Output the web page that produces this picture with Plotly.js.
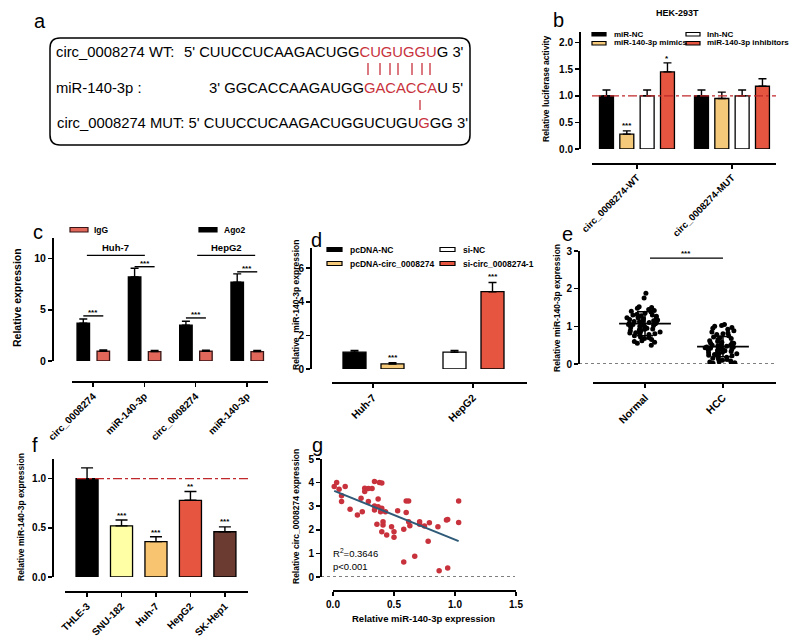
<!DOCTYPE html>
<html><head><meta charset="utf-8">
<script src="https://cdn.plot.ly/plotly-3.0.1.min.js"></script>
<style>html,body{margin:0;padding:0;background:#fff}#chart{width:800px;height:641px}</style>
</head><body><div id="chart"></div>
<script>
// ================= DATA =================
// panel a (sequence alignment)
const aWTLabel = 'circ_0008274 WT:';
const aWTSeq = ["5' CUUCCUCAAGACUGG", "CUGUGGU", "G 3'"];
const aMiRLabel = 'miR-140-3p :';
const aMiRSeq = ["3' GGCACCAAGAUGG", "GACACCA", "U 5'"];
const aMUTSeq = ["circ_0008274 MUT: 5' CUUCCUCAAGACUGGUCUGU", "G", "GG 3'"];

// panel b
const bTitle = 'HEK-293T';
const bGroups = ['circ_0008274-WT', 'circ_0008274-MUT'];
const bSeries = ['miR-NC', 'miR-140-3p mimics', 'Inh-NC', 'miR-140-3p inhibitors'];
const bMiRNC = [1.00, 1.00];
const bMimics = [0.28, 0.95];
const bInhNC = [1.00, 1.00];
const bInhibitors = [1.45, 1.18];
const bMiRNCErr = [0.11, 0.11];
const bMimicsErr = [0.06, 0.12];
const bInhNCErr = [0.11, 0.11];
const bInhibitorsErr = [0.17, 0.14];
const bStarText = ['***', '*'];
const bStarSeries = [1, 3];
const bStarY = [0.45, 1.70];

// panel c
const cCats = ['circ_0008274', 'miR-140-3p', 'circ_0008274', 'miR-140-3p'];
const cCells = ['Huh-7', 'HepG2'];
const cSeries = ['IgG', 'Ago2'];
const cIgG = [0.95, 0.92, 0.95, 0.92];
const cAgo2 = [3.7, 8.2, 3.5, 7.7];
const cIgGErr = [0.12, 0.10, 0.10, 0.10];
const cAgo2Err = [0.40, 0.85, 0.38, 0.80];
const cSigY = [4.4, 9.2, 4.2, 8.7];

// panel d
const dGroups = ['Huh-7', 'HepG2'];
const dSeries = ['pcDNA-NC', 'pcDNA-circ_0008274', 'si-NC', 'si-circ_0008274-1'];
const dGroupOf = ['Huh-7', 'Huh-7', 'HepG2', 'HepG2'];
const dValues = [1.0, 0.30, 1.0, 4.6];
const dErr = [0.10, 0.07, 0.10, 0.55];
const dStars = ['', '***', '', '***'];
const dStarY = [null, 0.67, null, 5.5];

// panel e
const eCats = ['Normal', 'HCC'];
const eNormal = [1.88, 1.75, 1.52, 1.50, 1.48, 1.45, 1.42, 1.40, 1.38, 1.35, 1.32, 1.30, 1.28, 1.27, 1.25,
  1.22, 1.20, 1.20, 1.18, 1.17, 1.15, 1.13, 1.12, 1.10, 1.10, 1.08, 1.07, 1.05, 1.05, 1.03, 1.02, 1.00,
  0.98, 0.97, 0.95, 0.93, 0.92, 0.90, 0.88, 0.87, 0.85, 0.83, 0.82, 0.80, 0.80, 0.78, 0.75, 0.72, 0.70,
  0.68, 0.65, 0.62, 0.60, 0.58, 0.55, 0.50, 1.23, 1.15, 0.95, 1.30];
const eHCC = [1.05, 1.02, 1.00, 0.97, 0.95, 0.92, 0.88, 0.85, 0.82, 0.80, 0.78, 0.75, 0.72, 0.70, 0.68,
  0.65, 0.62, 0.60, 0.58, 0.56, 0.55, 0.52, 0.50, 0.50, 0.48, 0.47, 0.45, 0.45, 0.43, 0.42, 0.40, 0.40,
  0.38, 0.37, 0.35, 0.35, 0.33, 0.32, 0.30, 0.30, 0.28, 0.27, 0.25, 0.23, 0.22, 0.20, 0.18, 0.15, 0.13,
  0.12, 0.10, 0.08, 0.06, 0.05, 0.03, 0.02, 0.01, 0.45, 0.38, 0.55];
const eMean = [1.07, 0.46];
const eSD = [0.32, 0.27];
const eSigY = 2.81;

// panel f
const fCats = ['THLE-3', 'SNU-182', 'Huh-7', 'HepG2', 'SK-Hep1'];
const fValues = [1.00, 0.52, 0.36, 0.78, 0.46];
const fErr = [0.11, 0.06, 0.05, 0.09, 0.05];
const fStars = ['', '***', '***', '**', '***'];
const fStarY = [null, 0.63, 0.45, 0.92, 0.56];

// panel g
const gX = [0.01, 0.03, 0.05, 0.07, 0.07, 0.10, 0.14, 0.20, 0.24, 0.23, 0.26, 0.26, 0.29, 0.32, 0.29,
  0.34, 0.34, 0.34, 0.36, 0.37, 0.37, 0.38, 0.39, 0.40, 0.40, 0.40, 0.41, 0.41, 0.43, 0.44, 0.48, 0.50,
  0.50, 0.53, 0.58, 0.58, 0.60, 0.60, 0.62, 0.62, 0.63, 0.67, 0.71, 0.71, 0.75, 0.78, 0.79, 0.86, 0.87,
  0.93, 0.94, 0.94, 1.03, 1.03];
const gY = [3.84, 4.00, 3.72, 3.44, 3.20, 3.84, 2.87, 2.63, 2.77, 3.34, 3.62, 3.76, 3.75, 3.75, 3.20,
  4.05, 3.01, 2.84, 2.23, 3.30, 2.98, 4.00, 2.77, 3.98, 2.91, 1.92, 2.34, 2.20, 2.77, 1.78, 2.13, 1.92,
  1.68, 2.81, 2.02, 0.64, 3.22, 2.73, 2.34, 3.22, 2.17, 0.88, 2.34, 2.24, 2.16, 1.52, 2.30, 2.13, 0.26,
  2.41, 2.44, 0.38, 3.22, 2.31];
const gFitX = [0.01, 1.03];
const gFitY = [3.65, 1.52];
const gR2 = '0.3646';
const gP = 'p<0.001';

// ================= DRAWING =================
const W = 800, H = 641;
const X = p => p / W;
const Y = p => 1 - p / H;
const F = 'Liberation Sans, Arial, sans-serif';
const RED = '#C8323C';
const BARRED = '#E5553F';
const YEL = '#F4C97A';
const TF = (s) => ({family: F, size: s, color: 'black', weight: 'bold'});

function ax(extra) {
  return Object.assign({
    showline: true, linecolor: 'black', linewidth: 1.5, ticks: 'outside', ticklen: 4,
    tickwidth: 1.5, tickcolor: 'black', showgrid: false, zeroline: false, fixedrange: true,
    anchor: 'free', tickfont: TF(10)
  }, extra);
}
function bar(xa, ya, x, y, err, color, offset, width, lc) {
  return {
    type: 'bar', xaxis: xa, yaxis: ya, x: x, y: y, offset: offset, width: width,
    marker: {color: color, line: {color: lc || 'black', width: 1.3}},
    error_y: {type: 'data', array: err, arrayminus: err.map(() => 0), symmetric: false,
      color: 'black', thickness: 1.4, width: 4},
    hoverinfo: 'skip'
  };
}

const traces = [];
const annotations = [];
const shapes = [];
function txt(x, y, text, opt) {
  annotations.push(Object.assign({x: x, y: y, text: text, showarrow: false, xref: 'paper', yref: 'paper',
    xanchor: 'center', yanchor: 'middle', font: TF(9)}, opt || {}));
}
function swatch(x0, x1, y0, y1, color, lc) {
  shapes.push({type: 'rect', xref: 'paper', yref: 'paper', x0: X(x0), x1: X(x1), y0: Y(y1), y1: Y(y0),
    fillcolor: color, line: {color: lc || 'black', width: 1.2}});
}
function pline(x0, y0, x1, y1, color, w, dash) {
  shapes.push({type: 'line', xref: 'paper', yref: 'paper', x0: X(x0), y0: Y(y0), x1: X(x1), y1: Y(y1),
    line: {color: color, width: w, dash: dash || 'solid'}});
}

// ---- panel labels
[['a', 40, 21], ['b', 558, 20], ['c', 38, 232], ['d', 316, 240], ['e', 567, 234], ['f', 35, 445], ['g', 317, 445]]
  .forEach(p => txt(X(p[1]), Y(p[2]), p[0], {font: {family: F, size: 20, color: 'black'}}));

// ---- panel a
(function () {
  const x0 = 50, y0 = 38, x1 = 470, y1 = 145, r = 10;
  const P = (x, y) => X(x) + ',' + Y(y);
  const path = 'M' + P(x0 + r, y0) + ' L' + P(x1 - r, y0) + ' Q' + P(x1, y0) + ' ' + P(x1, y0 + r) +
    ' L' + P(x1, y1 - r) + ' Q' + P(x1, y1) + ' ' + P(x1 - r, y1) + ' L' + P(x0 + r, y1) +
    ' Q' + P(x0, y1) + ' ' + P(x0, y1 - r) + ' L' + P(x0, y0 + r) + ' Q' + P(x0, y0) + ' ' + P(x0 + r, y0) + ' Z';
  shapes.push({type: 'path', xref: 'paper', yref: 'paper', path: path, line: {color: 'black', width: 1.5}});
  const fa = {family: F, size: 14.8, color: 'black'};
  const red = s => '<span style="color:' + RED + '">' + s + '</span>';
  txt(X(54), Y(52), aWTLabel, {xanchor: 'left', font: fa});
  txt(X(466), Y(52), aWTSeq[0] + red(aWTSeq[1]) + aWTSeq[2], {xanchor: 'right', font: fa});
  txt(X(54), Y(88), aMiRLabel, {xanchor: 'left', font: fa});
  txt(X(465), Y(88), aMiRSeq[0] + red(aMiRSeq[1]) + aMiRSeq[2], {xanchor: 'right', font: fa});
  txt(X(470), Y(123), aMUTSeq[0] + red(aMUTSeq[1]) + aMUTSeq[2], {xanchor: 'right', font: fa});
  [368, 380, 390, 398, 412, 422, 430].forEach(x => pline(x, 63, x, 75, RED, 1.3));
  pline(420, 100, 420, 110, RED, 1.3);
})();

// ---- panel b
(function () {
  const w = 0.147, offs = [-0.395, -0.181, 0.033, 0.247];
  const vals = [bMiRNC, bMimics, bInhNC, bInhibitors];
  const errs = [bMiRNCErr, bMimicsErr, bInhNCErr, bInhibitorsErr];
  const cols = ['black', YEL, 'white', BARRED];
  vals.forEach((v, i) => traces.push(bar('x', 'y', bGroups, v, errs[i], cols[i], offs[i], w)));
  bStarText.forEach((s, k) => annotations.push({xref: 'x', yref: 'y', x: offs[bStarSeries[k]] + w / 2, y: bStarY[k],
    text: s, showarrow: false, font: TF(8)}));
  shapes.push({type: 'line', xref: 'paper', yref: 'y', x0: X(592), x1: X(776), y0: 1, y1: 1,
    line: {color: '#C0282A', width: 1.3, dash: 'dashdot'}});
  txt(X(677), Y(13), bTitle, {font: TF(9)});
  txt(X(546), Y(89), 'Relative luciferase activity', {textangle: -90, font: TF(8.5)});
  const lf = TF(8);
  swatch(592, 606, 32.5, 36, cols[0]); txt(X(612), Y(34), bSeries[0], {xanchor: 'left', font: lf});
  swatch(686, 700, 32.5, 36, cols[2]); txt(X(705), Y(34), bSeries[2], {xanchor: 'left', font: lf});
  swatch(592, 606, 41.5, 45, cols[1]); txt(X(612), Y(43), bSeries[1], {xanchor: 'left', font: lf});
  swatch(686, 700, 41.5, 45, cols[3]); txt(X(705), Y(43), bSeries[3], {xanchor: 'left', font: lf});
})();

// ---- panel c
(function () {
  const idx = cCats.map((_, i) => i);
  const w = 0.244;
  traces.push(bar('x2', 'y2', idx, cAgo2, cAgo2Err, 'black', -0.312, w));
  traces.push(bar('x2', 'y2', idx, cIgG, cIgGErr, '#E0675A', 0.078, w, '#3a1515'));
  const cA = -0.312 + w / 2, cB = 0.078 + w / 2;
  idx.forEach(i => {
    shapes.push({type: 'line', xref: 'x2', yref: 'y2', x0: i + cA, x1: i + cB, y0: cSigY[i], y1: cSigY[i], line: {color: 'black', width: 1.4}});
    annotations.push({xref: 'x2', yref: 'y2', x: i + (cA + cB) / 2, y: cSigY[i], yanchor: 'bottom', yshift: -3, text: '***',
      showarrow: false, font: TF(8)});
  });
  const spans = [[-0.12, 1.01], [2.03, 3.16]];
  cCells.forEach((c, k) => {
    shapes.push({type: 'line', xref: 'x2', yref: 'y2', x0: spans[k][0], x1: spans[k][1], y0: 10.3, y1: 10.3, line: {color: 'black', width: 1.4}});
    annotations.push({xref: 'x2', yref: 'y2', x: (spans[k][0] + spans[k][1]) / 2, y: 10.3, yanchor: 'bottom', yshift: 0, text: c,
      showarrow: false, font: TF(9.5)});
  });
  txt(X(17), Y(298), 'Relative expression', {textangle: -90, font: TF(10.5)});
  const lf = TF(8.5);
  swatch(70, 88, 227.5, 232, '#E0675A', '#3a1515'); txt(X(92), Y(230), cSeries[0], {xanchor: 'left', font: lf});
  swatch(199, 217, 227.5, 232, 'black'); txt(X(222), Y(230), cSeries[1], {xanchor: 'left', font: lf});
})();

// ---- panel d
(function () {
  const w = 0.23, offs = [-0.30, 0.08, -0.30, 0.08];
  const cols = ['black', YEL, 'white', BARRED];
  dSeries.forEach((s, i) => {
    traces.push(bar('x3', 'y3', [dGroupOf[i]], [dValues[i]], [dErr[i]], cols[i], offs[i], w));
    if (dStars[i]) annotations.push({xref: 'x3', yref: 'y3', x: dGroups.indexOf(dGroupOf[i]) + offs[i] + w / 2, y: dStarY[i],
      text: dStars[i], showarrow: false, font: TF(8)});
  });
  txt(X(296), Y(305), 'Relative  miR-140-3p expression', {textangle: -90, font: TF(8.5)});
  const lf = TF(8.5);
  swatch(327, 342, 247.5, 251.5, cols[0]); txt(X(348), Y(249.5), dSeries[0], {xanchor: 'left', font: lf});
  swatch(440, 455, 247.5, 251.5, cols[2]); txt(X(461), Y(249.5), dSeries[2], {xanchor: 'left', font: lf});
  swatch(327, 342, 261.5, 265.5, cols[1]); txt(X(348), Y(263.5), dSeries[1], {xanchor: 'left', font: lf});
  swatch(440, 455, 261.5, 265.5, cols[3]); txt(X(461), Y(263.5), dSeries[3], {xanchor: 'left', font: lf});
})();

// ---- panel e
(function () {
  [eNormal, eHCC].forEach((v, k) => traces.push({
    type: 'box', xaxis: 'x4', yaxis: 'y4', x: v.map(() => eCats[k]), y: v, boxpoints: 'all', jitter: 1, pointpos: 0,
    marker: {color: 'black', size: 5}, line: {width: 0, color: 'rgba(0,0,0,0)'}, fillcolor: 'rgba(0,0,0,0)',
    whiskerwidth: 0, hoverinfo: 'skip'
  }));
  traces.push({type: 'scatter', mode: 'markers', xaxis: 'x4', yaxis: 'y4', x: eCats, y: eMean,
    marker: {symbol: 'line-ew', size: 37, color: 'black', line: {width: 1.8, color: 'black'}},
    error_y: {type: 'data', array: eSD, color: 'black', thickness: 1.5, width: 8}, hoverinfo: 'skip', cliponaxis: false});
  shapes.push({type: 'line', xref: 'paper', yref: 'y4', x0: X(579), x1: X(775), y0: 0, y1: 0, line: {color: 'black', width: 1.2, dash: 'dot'}});
  shapes.push({type: 'line', xref: 'x4', yref: 'y4', x0: 0.064, x1: 1.0, y0: eSigY, y1: eSigY, line: {color: 'black', width: 1.4}});
  annotations.push({xref: 'x4', yref: 'y4', x: 0.53, y: eSigY, yanchor: 'bottom', yshift: -2, text: '***', showarrow: false,
    font: TF(8)});
  txt(X(557), Y(308), 'Relative miR-140-3p expression', {textangle: -90, font: TF(8.5)});
})();

// ---- panel f
(function () {
  const cols = ['black', '#FFFFA6', '#F8C46F', BARRED, '#6B3A30'];
  const w = 0.64;
  traces.push({
    type: 'bar', xaxis: 'x5', yaxis: 'y5', x: fCats, y: fValues, width: w,
    marker: {color: cols, line: {color: 'black', width: 1.3}},
    error_y: {type: 'data', array: fErr, arrayminus: fErr.map(() => 0), symmetric: false, color: 'black', thickness: 1.4, width: 6},
    hoverinfo: 'skip'
  });
  fStars.forEach((s, i) => { if (s) annotations.push({xref: 'x5', yref: 'y5', x: fCats[i], y: fStarY[i], text: s, showarrow: false,
    font: TF(8)}); });
  shapes.push({type: 'line', xref: 'paper', yref: 'y5', x0: X(77), x1: X(248), y0: 1, y1: 1, line: {color: '#C0282A', width: 1.3, dash: 'dashdot'}});
  txt(X(21), Y(517), 'Relative miR-140-3p expression', {textangle: -90, font: TF(8.5)});
})();

// ---- panel g
(function () {
  traces.push({type: 'scatter', mode: 'markers', xaxis: 'x6', yaxis: 'y6', x: gX, y: gY,
    marker: {color: RED, size: 5.5}, cliponaxis: false, hoverinfo: 'skip'});
  traces.push({type: 'scatter', mode: 'lines', xaxis: 'x6', yaxis: 'y6', x: gFitX, y: gFitY,
    line: {color: '#2E5A78', width: 2}, hoverinfo: 'skip'});
  shapes.push({type: 'line', xref: 'paper', yref: 'y6', x0: X(321), x1: X(515), y0: 0, y1: 0, line: {color: 'black', width: 1.2, dash: 'dot'}});
  const nf = {family: F, size: 9.5, color: 'black'};
  txt(X(331), Y(553), 'R<sup>2</sup>=' + gR2, {xanchor: 'left', font: nf});
  txt(X(331), Y(566), gP, {xanchor: 'left', font: nf});
  txt(X(296), Y(517), 'Relative circ_0008274 expression', {textangle: -90, font: TF(8.5)});
  txt(X(423), Y(618), 'Relative miR-140-3p expression', {font: TF(9.5)});
})();

const layout = {
  width: W, height: H, margin: {l: 0, r: 0, t: 0, b: 0}, paper_bgcolor: 'white', plot_bgcolor: 'rgba(0,0,0,0)',
  showlegend: false, barmode: 'overlay', boxmode: 'overlay', boxgap: 0.3, font: {family: F, color: 'black'},
  xaxis: ax({domain: [X(592), X(776)], position: Y(163), type: 'category', range: [-0.474, 1.463], tickangle: -45,
    tickfont: TF(9.5)}),
  yaxis: ax({domain: [Y(149), Y(32)], position: X(579), range: [0, 2.2], tickvals: [0, 0.5, 1, 1.5, 2], tickformat: '.1f'}),
  xaxis2: ax({domain: [X(72), X(268)], position: Y(381), range: [-0.41, 3.41], tickvals: cCats.map((_, i) => i), ticktext: cCats,
    tickangle: -45, tickfont: TF(10)}),
  yaxis2: ax({domain: [Y(361), Y(238)], position: X(52), range: [0, 12], tickvals: [0, 5, 10], tickfont: TF(10.5)}),
  xaxis3: ax({domain: [X(332), X(527)], position: Y(382), type: 'category', categoryorder: 'array', categoryarray: dGroups,
    range: [-0.41, 1.54], tickangle: -45, tickfont: TF(10.5)}),
  yaxis3: ax({domain: [Y(369), Y(248)], position: X(310), range: [0, 7.2], tickvals: [0, 2, 4, 6]}),
  xaxis4: ax({domain: [X(593), X(776)], position: Y(382), type: 'category', categoryorder: 'array', categoryarray: eCats,
    range: [-0.667, 1.68], tickangle: -45, tickfont: TF(10.5)}),
  yaxis4: ax({domain: [Y(364), Y(251)], position: X(578), range: [0, 3], tickvals: [0, 1, 2, 3]}),
  xaxis5: ax({domain: [X(65), X(248)], position: Y(591), type: 'category', categoryorder: 'array', categoryarray: fCats,
    range: [-0.64, 4.67], tickangle: -45, tickfont: TF(10)}),
  yaxis5: ax({domain: [Y(577), Y(459)], position: X(52), range: [0, 1.2], tickvals: [0, 0.5, 1], tickformat: '.1f'}),
  xaxis6: ax({domain: [X(333), X(516)], position: Y(590), range: [0, 1.5], tickvals: [0, 0.5, 1, 1.5], tickformat: '.1f', tickangle: 0,
    tickfont: TF(10)}),
  yaxis6: ax({domain: [Y(577), Y(459)], position: X(320), range: [0, 5], tickvals: [0, 1, 2, 3, 4, 5]}),
  annotations: annotations, shapes: shapes
};
Plotly.newPlot('chart', traces, layout, {displayModeBar: false, staticPlot: true});
</script></body></html>
